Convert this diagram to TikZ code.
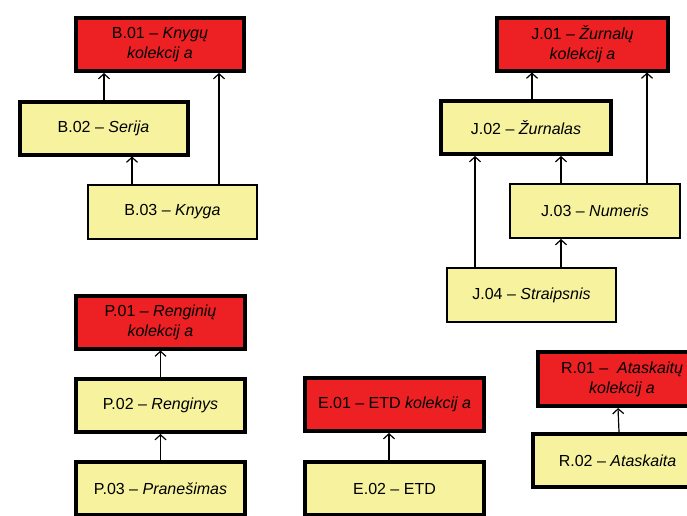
\documentclass[tikz,border=0pt]{standalone}
\usepackage{fontspec}
\setmainfont{Liberation Sans}
\usetikzlibrary{arrows.meta}
\definecolor{boxred}{RGB}{237,32,36}
\definecolor{boxyel}{RGB}{246,242,158}
\begin{document}
\begin{tikzpicture}[x=1pt,y=-1pt,
  box/.style={draw=black, align=center, inner sep=0pt, text=black,
    font=\fontsize{16}{20}\selectfont},
  thk/.style={box, line width=4pt, minimum width=168pt, minimum height=53pt},
  thn/.style={box, line width=2pt, minimum width=169pt, minimum height=54pt},
  redbox/.style={thk, fill=boxred},
  yelthick/.style={thk, fill=boxyel},
  yelthin/.style={thn, fill=boxyel},
  arr/.style={line width=1.2pt, -{Straight Barb[length=5pt,width=11pt,line width=1.2pt]}}]
\useasboundingbox (0,0) rectangle (687,515);
\clip (0,0) rectangle (687,515);
\fill[white] (0,0) rectangle (687,515);

% B group
\node[redbox] (B01) at (160,44.5) {B.01 – \textit{Knygų}\\\textit{kolekcij a}};
\node[yelthick] (B02) at (103.5,128) {B.02 – \textit{Serija}};
\node[yelthin] (B03) at (172.5,211.5) {B.03 – \textit{Knyga}};

% J group
\node[redbox, minimum width=171pt] (J01) at (582.5,44) {J.01 – \textit{Žurnalų}\\\textit{kolekcij a}};
\node[yelthick, minimum width=170pt] (J02) at (526,127.5) {J.02 – \textit{Žurnalas}};
\node[yelthin, minimum width=170pt] (J03) at (595,211) {J.03 – \textit{Numeris}};
\node[yelthin] (J04) at (531.5,295) {J.04 – \textit{Straipsnis}};

% P group
\node[redbox, minimum width=169pt] (P01) at (160.5,322) {P.01 – \textit{Renginių}\\\textit{kolekcij a}};
\node[yelthick, minimum width=169pt] (P02) at (160.5,405.5) {P.02 – \textit{Renginys}};
\node[yelthick, minimum width=169pt] (P03) at (160.5,488.5) {P.03 – \textit{Pranešimas}};

% E group
\node[redbox, minimum width=179pt] (E01) at (394.5,404.5) {E.01 – ETD \textit{kolekcij a}};
\node[yelthick, minimum width=179pt] (E02) at (394.5,488.5) {E.02 – ETD};

% R group
\node[redbox, minimum width=169pt, minimum height=54pt] (R01) at (622,379) {R.01 –\ \ \textit{Ataskaitų}\\\textit{kolekcij a}};
\node[yelthick, minimum width=169pt] (R02) at (617.5,460.5) {R.02 – \textit{Ataskaita}};

% connectors
\draw[arr] ([xshift=0.5pt]B02.north) coordinate (b1) -- (b1 |- B01.south);
\draw[arr] ([xshift=-40.5pt]B03.north) coordinate (b2) -- (b2 |- B02.south);
\draw[arr] ([xshift=46.5pt]B03.north) coordinate (b3) -- (b3 |- B01.south);

\draw[arr] ([xshift=6pt]J02.north) coordinate (j1) -- (j1 |- J01.south);
\draw[arr] ([xshift=-34pt]J03.north) coordinate (j2) -- (j2 |- J02.south);
\draw[arr] ([xshift=52pt]J03.north) coordinate (j3) -- (j3 |- J01.south);
\draw[arr] ([xshift=-56.5pt]J04.north) coordinate (j4) -- (j4 |- J02.south);
\draw[arr] ([xshift=29.5pt]J04.north) coordinate (j5) -- (j5 |- J03.south);

\draw[arr] (P02.north) -- (P01.south);
\draw[arr] (P03.north) -- (P02.south);

\draw[arr] ([xshift=-5.5pt]E02.north) coordinate (e1) -- (e1 |- E01.south);

\draw[arr] ([xshift=1.5pt]R02.north) -- ([xshift=-4pt]R01.south);
\end{tikzpicture}
\end{document}
